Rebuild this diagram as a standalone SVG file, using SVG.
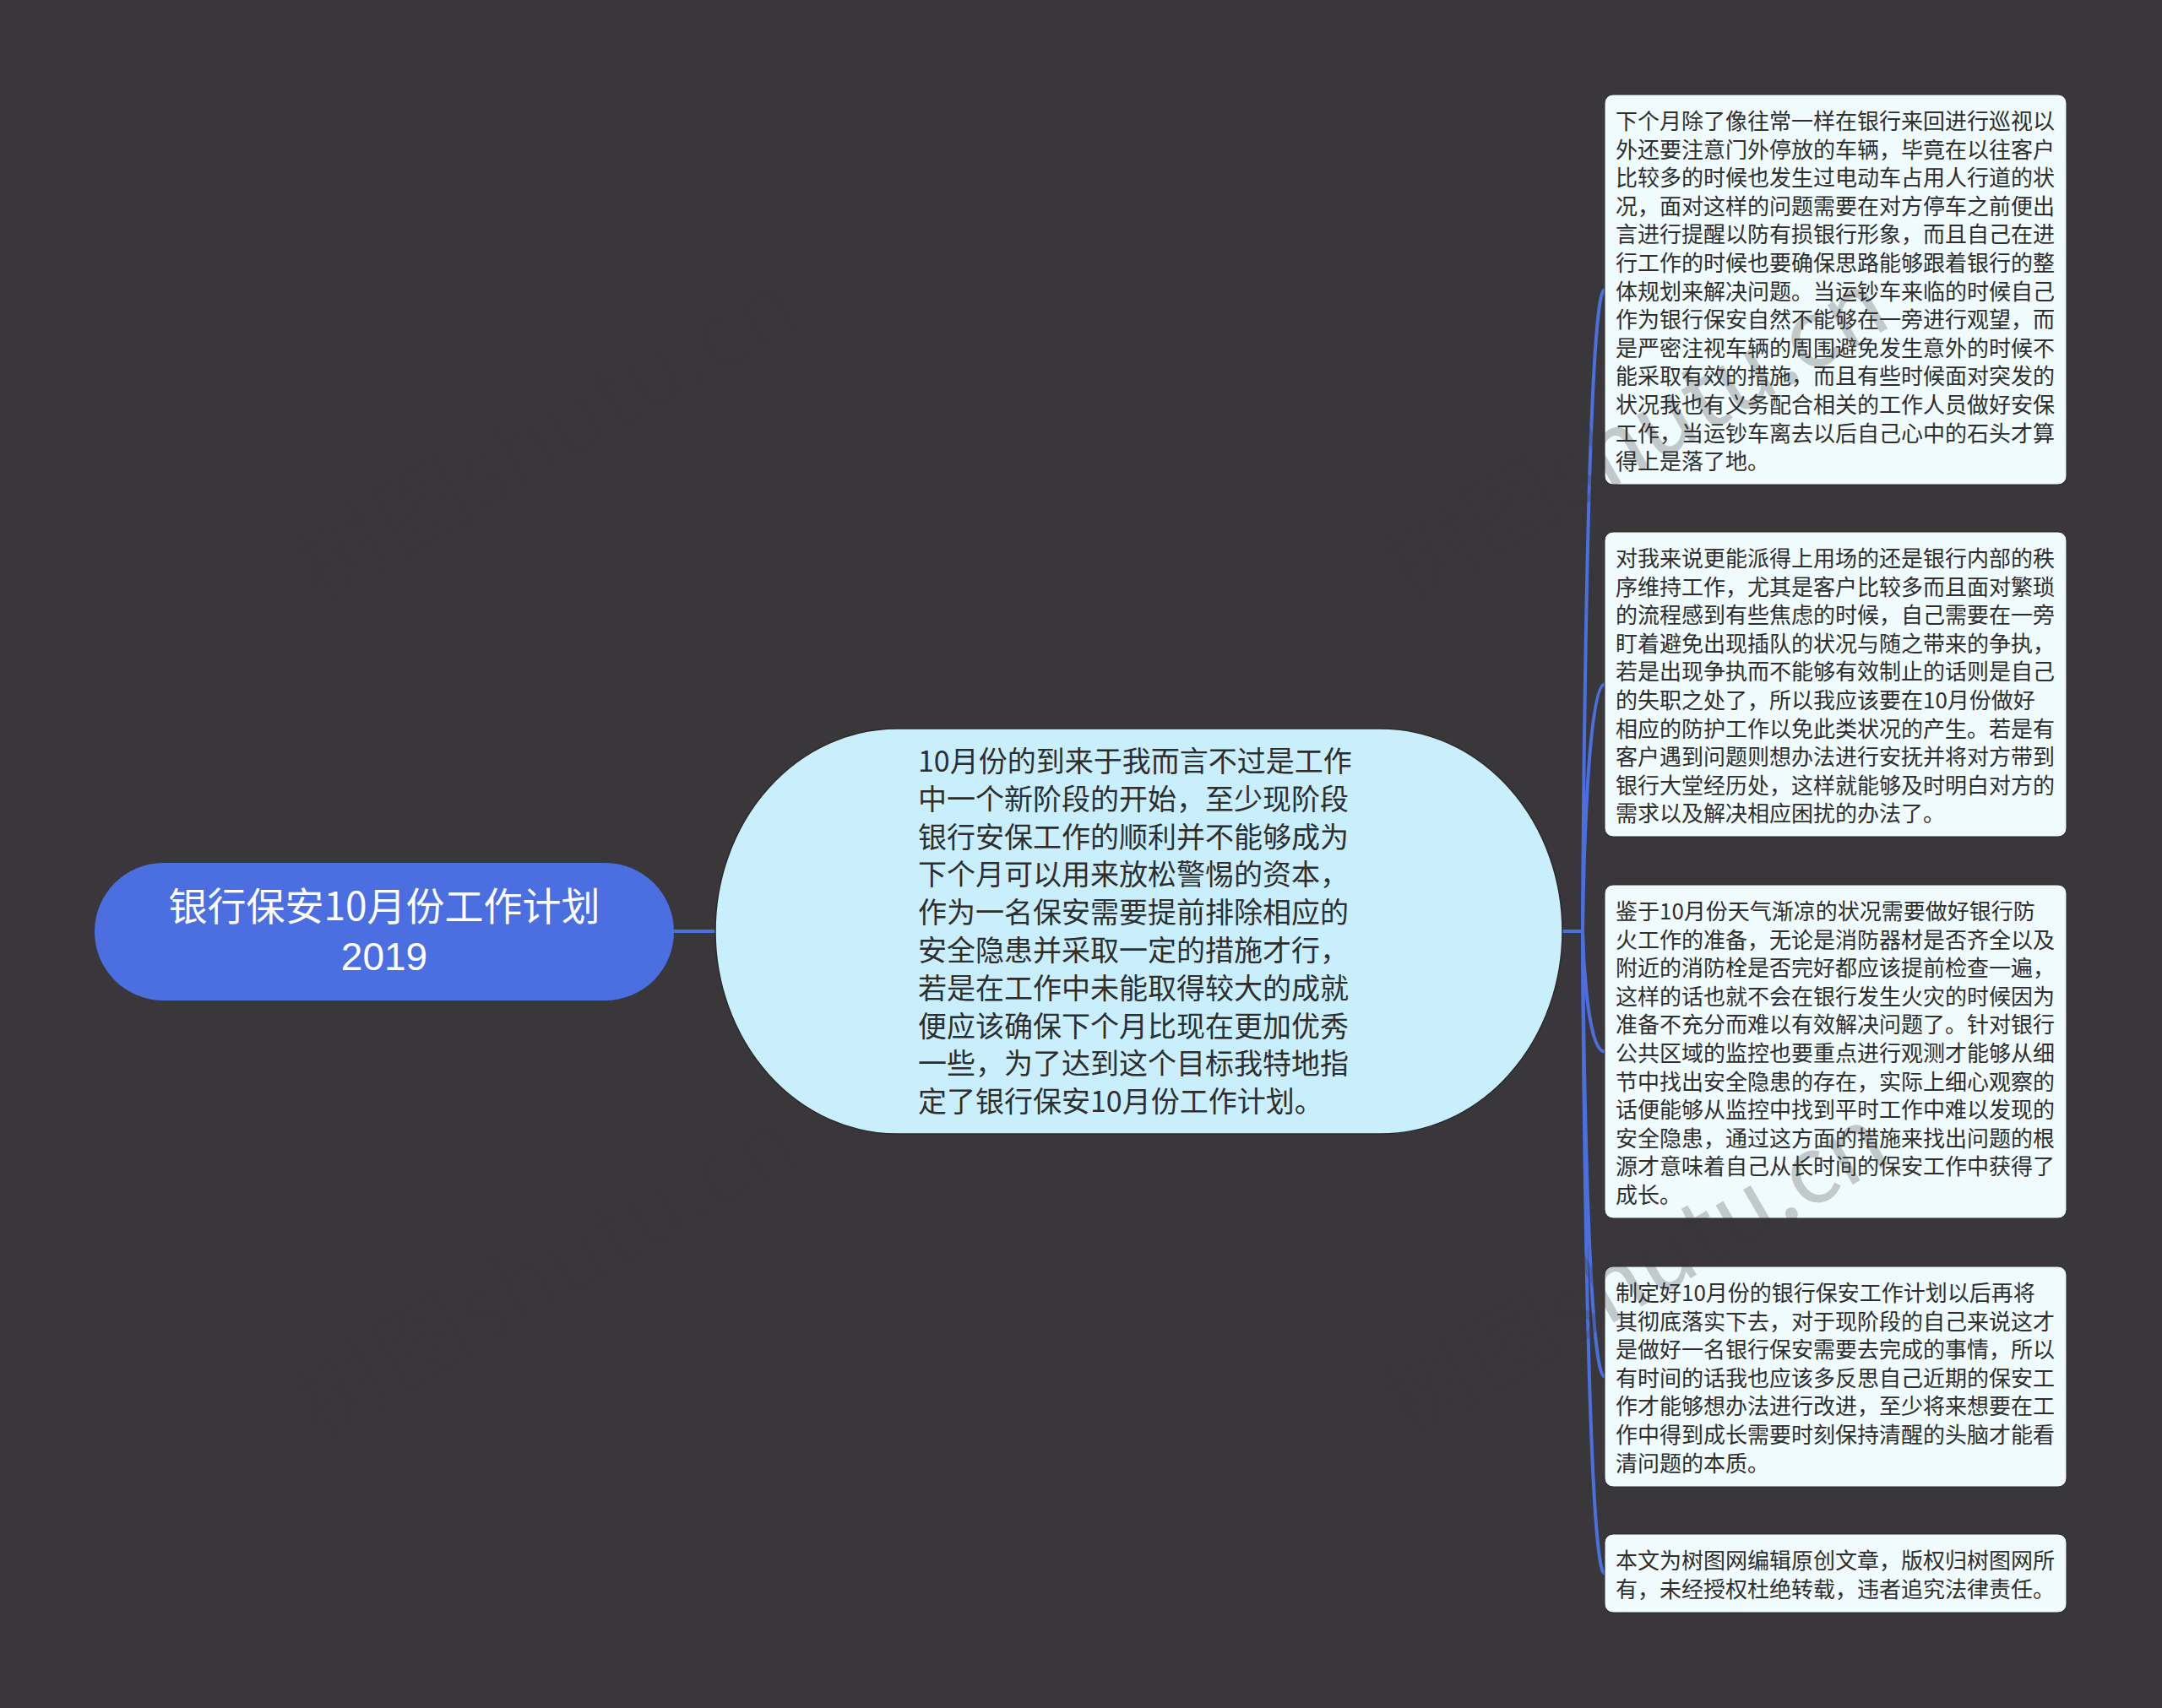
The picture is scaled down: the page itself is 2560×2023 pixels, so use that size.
<svg xmlns="http://www.w3.org/2000/svg" width="2560" height="2023" viewBox="0 0 2560 2023">
<style>
.cjk{font-family:"Noto Sans CJK SC","Liberation Sans",sans-serif}
.lat{font-family:"Liberation Sans","Noto Sans CJK SC",sans-serif}
.root-text{font-size:46px;fill:#ffffff}
.main-text{font-size:34px;fill:#2e2e2e}
.leaf-text{font-size:26px;fill:#2e2e2e}
.leaf{fill:#effbfc;stroke:#2a2a2c;stroke-width:1}
.conn{fill:none;stroke:#4b6fe0;stroke-width:4;stroke-linecap:round}
.wm{font-size:110px;fill:#363436;fill-opacity:0.25}
</style>
<rect x="0" y="0" width="2560" height="2023" fill="#393739"/>

<g id="connectors">
<line class="conn" x1="798" y1="1103" x2="848" y2="1103"/>
<line class="conn" x1="1848" y1="1103" x2="1874" y2="1103"/>
<path class="conn" d="M1874 1103 C1874 1103 1877 343 1900 343"/>
<path class="conn" d="M1874 1103 C1874 1103 1877 810.5 1900 810.5"/>
<path class="conn" d="M1874 1103 C1874 1103 1877 1245.5 1900 1245.5"/>
<path class="conn" d="M1874 1103 C1874 1103 1877 1630.5 1900 1630.5"/>
<path class="conn" d="M1874 1103 C1874 1103 1877 1863.5 1900 1863.5"/>
</g>

<g id="root">
<rect x="112" y="1022" width="686" height="163" rx="81.5" ry="81.5" fill="#4b6fe0"/>
<text class="cjk root-text" text-anchor="middle" x="455" y="1090">银行保安10月份工作计划</text>
<text class="lat root-text" text-anchor="middle" x="455" y="1149">2019</text>
</g>

<g id="main">
<rect x="847" y="863" width="1003" height="480" rx="215" ry="240" fill="#c9effd" stroke="#2a2a2c" stroke-width="1.5"/>
<text class="cjk main-text">
<tspan x="1087" y="914">10月份的到来于我而言不过是工作</tspan>
<tspan x="1087" y="958.8">中一个新阶段的开始，至少现阶段</tspan>
<tspan x="1087" y="1003.6">银行安保工作的顺利并不能够成为</tspan>
<tspan x="1087" y="1048.4">下个月可以用来放松警惕的资本，</tspan>
<tspan x="1087" y="1093.2">作为一名保安需要提前排除相应的</tspan>
<tspan x="1087" y="1138">安全隐患并采取一定的措施才行，</tspan>
<tspan x="1087" y="1182.8">若是在工作中未能取得较大的成就</tspan>
<tspan x="1087" y="1227.6">便应该确保下个月比现在更加优秀</tspan>
<tspan x="1087" y="1272.4">一些，为了达到这个目标我特地指</tspan>
<tspan x="1087" y="1317.2">定了银行保安10月份工作计划。</tspan>
</text>
</g>

<g id="leaf1">
<rect class="leaf" x="1900" y="112" width="547" height="462" rx="10" ry="10"/>
<text class="cjk leaf-text">
<tspan x="1913" y="153">下个月除了像往常一样在银行来回进行巡视以</tspan>
<tspan x="1913" y="186.6">外还要注意门外停放的车辆，毕竟在以往客户</tspan>
<tspan x="1913" y="220.2">比较多的时候也发生过电动车占用人行道的状</tspan>
<tspan x="1913" y="253.8">况，面对这样的问题需要在对方停车之前便出</tspan>
<tspan x="1913" y="287.4">言进行提醒以防有损银行形象，而且自己在进</tspan>
<tspan x="1913" y="321">行工作的时候也要确保思路能够跟着银行的整</tspan>
<tspan x="1913" y="354.6">体规划来解决问题。当运钞车来临的时候自己</tspan>
<tspan x="1913" y="388.2">作为银行保安自然不能够在一旁进行观望，而</tspan>
<tspan x="1913" y="421.8">是严密注视车辆的周围避免发生意外的时候不</tspan>
<tspan x="1913" y="455.4">能采取有效的措施，而且有些时候面对突发的</tspan>
<tspan x="1913" y="489">状况我也有义务配合相关的工作人员做好安保</tspan>
<tspan x="1913" y="522.6">工作，当运钞车离去以后自己心中的石头才算</tspan>
<tspan x="1913" y="556.2">得上是落了地。</tspan>
</text>
</g>

<g id="leaf2">
<rect class="leaf" x="1900" y="630" width="547" height="361" rx="10" ry="10"/>
<text class="cjk leaf-text">
<tspan x="1913" y="671">对我来说更能派得上用场的还是银行内部的秩</tspan>
<tspan x="1913" y="704.6">序维持工作，尤其是客户比较多而且面对繁琐</tspan>
<tspan x="1913" y="738.2">的流程感到有些焦虑的时候，自己需要在一旁</tspan>
<tspan x="1913" y="771.8">盯着避免出现插队的状况与随之带来的争执，</tspan>
<tspan x="1913" y="805.4">若是出现争执而不能够有效制止的话则是自己</tspan>
<tspan x="1913" y="839">的失职之处了，所以我应该要在10月份做好</tspan>
<tspan x="1913" y="872.6">相应的防护工作以免此类状况的产生。若是有</tspan>
<tspan x="1913" y="906.2">客户遇到问题则想办法进行安抚并将对方带到</tspan>
<tspan x="1913" y="939.8">银行大堂经历处，这样就能够及时明白对方的</tspan>
<tspan x="1913" y="973.4">需求以及解决相应困扰的办法了。</tspan>
</text>
</g>

<g id="leaf3">
<rect class="leaf" x="1900" y="1048" width="547" height="395" rx="10" ry="10"/>
<text class="cjk leaf-text">
<tspan x="1913" y="1089">鉴于10月份天气渐凉的状况需要做好银行防</tspan>
<tspan x="1913" y="1122.6">火工作的准备，无论是消防器材是否齐全以及</tspan>
<tspan x="1913" y="1156.2">附近的消防栓是否完好都应该提前检查一遍，</tspan>
<tspan x="1913" y="1189.8">这样的话也就不会在银行发生火灾的时候因为</tspan>
<tspan x="1913" y="1223.4">准备不充分而难以有效解决问题了。针对银行</tspan>
<tspan x="1913" y="1257">公共区域的监控也要重点进行观测才能够从细</tspan>
<tspan x="1913" y="1290.6">节中找出安全隐患的存在，实际上细心观察的</tspan>
<tspan x="1913" y="1324.2">话便能够从监控中找到平时工作中难以发现的</tspan>
<tspan x="1913" y="1357.8">安全隐患，通过这方面的措施来找出问题的根</tspan>
<tspan x="1913" y="1391.4">源才意味着自己从长时间的保安工作中获得了</tspan>
<tspan x="1913" y="1425">成长。</tspan>
</text>
</g>

<g id="leaf4">
<rect class="leaf" x="1900" y="1500" width="547" height="261" rx="10" ry="10"/>
<text class="cjk leaf-text">
<tspan x="1913" y="1541">制定好10月份的银行保安工作计划以后再将</tspan>
<tspan x="1913" y="1574.6">其彻底落实下去，对于现阶段的自己来说这才</tspan>
<tspan x="1913" y="1608.2">是做好一名银行保安需要去完成的事情，所以</tspan>
<tspan x="1913" y="1641.8">有时间的话我也应该多反思自己近期的保安工</tspan>
<tspan x="1913" y="1675.4">作才能够想办法进行改进，至少将来想要在工</tspan>
<tspan x="1913" y="1709">作中得到成长需要时刻保持清醒的头脑才能看</tspan>
<tspan x="1913" y="1742.6">清问题的本质。</tspan>
</text>
</g>

<g id="leaf5">
<rect class="leaf" x="1900" y="1817" width="547" height="93" rx="10" ry="10"/>
<text class="cjk leaf-text">
<tspan x="1913" y="1858">本文为树图网编辑原创文章，版权归树图网所</tspan>
<tspan x="1913" y="1891.6">有，未经授权杜绝转载，违者追究法律责任。</tspan>
</text>
</g>

<g id="watermarks" class="cjk wm" text-anchor="middle">
<text transform="translate(646 518) rotate(-30)" dy="38">树图shutu.cn</text>
<text transform="translate(1936 518) rotate(-30)" dy="38">树图shutu.cn</text>
<text transform="translate(646 1508) rotate(-30)" dy="38">树图shutu.cn</text>
<text transform="translate(1936 1508) rotate(-30)" dy="38">树图shutu.cn</text>
</g>
</svg>
